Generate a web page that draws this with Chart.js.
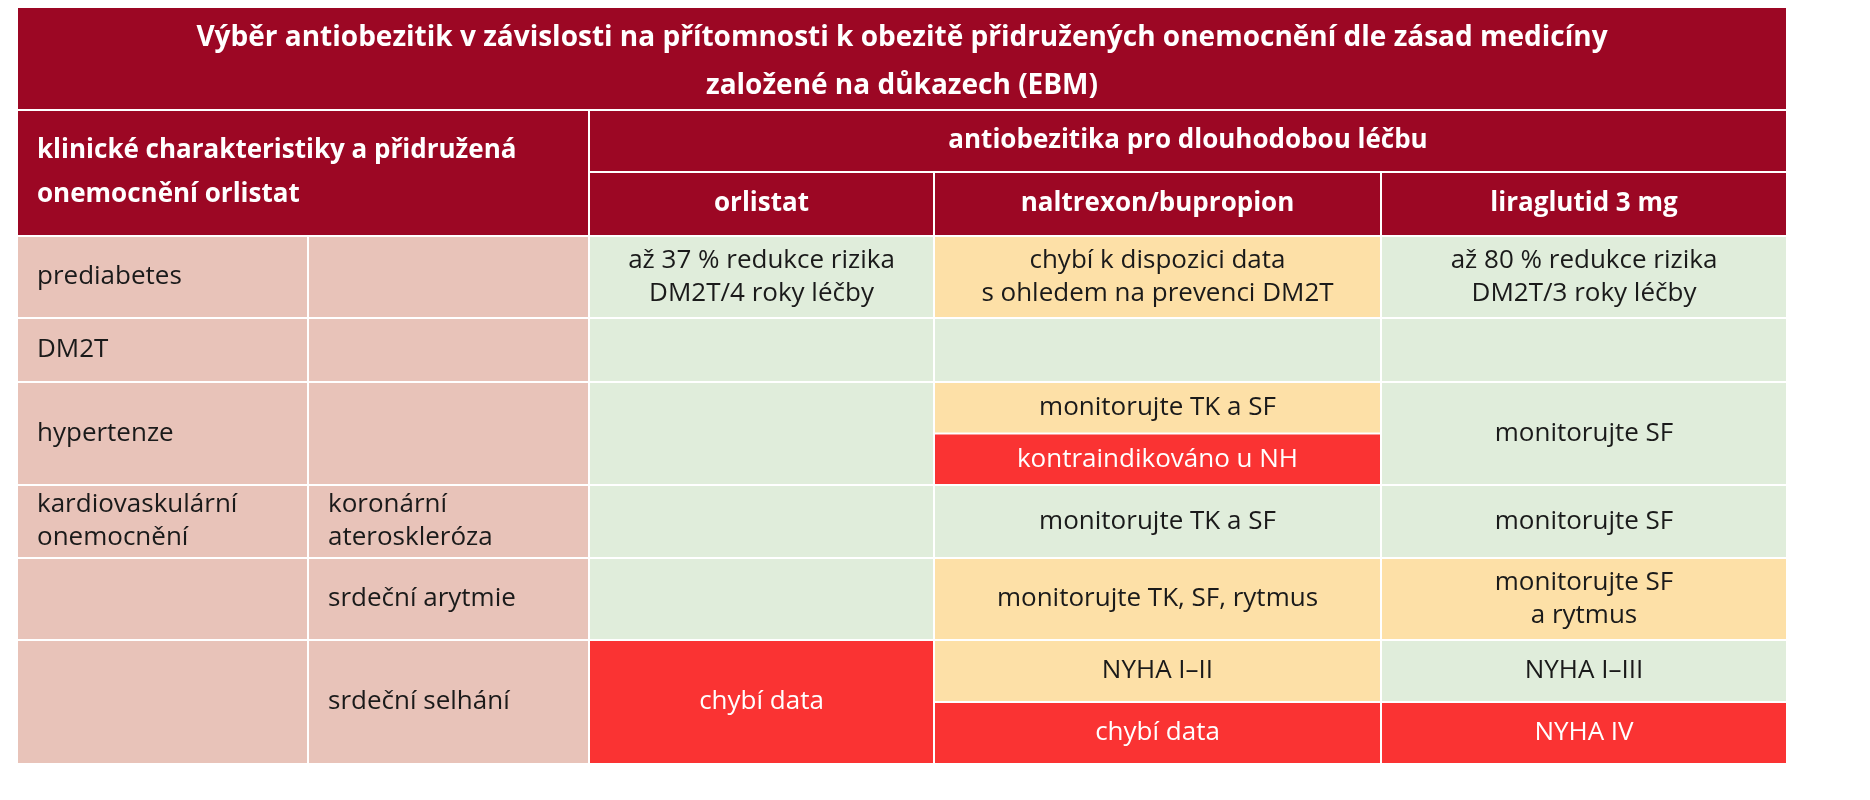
<!DOCTYPE html>
<html><head><meta charset="utf-8">
<script src="https://cdn.jsdelivr.net/npm/chart.js@4.4.1/dist/chart.umd.min.js"></script>
<style>html,body{margin:0;padding:0;background:#fff}#w{width:1870px;height:800px}</style>
</head><body><div id="w"><canvas id="c" width="1870" height="800"></canvas></div>
<script>
// ---- data ----
const title = ['Výběr antiobezitik v závislosti na přítomnosti k obezitě přidružených onemocnění dle zásad medicíny', 'založené na důkazech (EBM)'];
const leftHeader = ['klinické charakteristiky a přidružená', 'onemocnění orlistat'];
const groupHeader = 'antiobezitika pro dlouhodobou léčbu';
const drugs = ['orlistat', 'naltrexon/bupropion', 'liraglutid 3 mg'];
const conditions = ['prediabetes', 'DM2T', 'hypertenze', 'kardiovaskulární\nonemocnění', '', ''];
const subConditions = ['', '', '', 'koronární\nateroskleróza', 'srdeční arytmie', 'srdeční selhání'];
const orlistat = [
  [['až 37 % redukce rizika\nDM2T/4 roky léčby','g']],
  [['','g']],
  [['','g']],
  [['','g']],
  [['','g']],
  [['chybí data','r']]
];
const naltrexon = [
  [['chybí k dispozici data\ns ohledem na prevenci DM2T','o']],
  [['','g']],
  [['monitorujte TK a SF','o'],['kontraindikováno u NH','r']],
  [['monitorujte TK a SF','g']],
  [['monitorujte TK, SF, rytmus','o']],
  [['NYHA I–II','o'],['chybí data','r']]
];
const liraglutid = [
  [['až 80 % redukce rizika\nDM2T/3 roky léčby','g']],
  [['','g']],
  [['monitorujte SF','g']],
  [['monitorujte SF','g']],
  [['monitorujte SF\na rytmus','o']],
  [['NYHA I–III','g'],['NYHA IV','r']]
];

// ---- layout / style ----
const colEdges = [17, 308, 589, 934, 1381, 1787];
const headEdges = [7, 110, 172, 236];
const bodyRowEdges = [236, 318, 382, 485, 558, 640, 764];
const tones = {g:'#e0eddb', o:'#fde0a7', r:'#fa3333', p:'#e8c3b9', h:'#9c0724'};
const FONT = '"Open Sans", "Noto Sans", sans-serif';

function buildCells(){
  const cells = [];
  cells.push({x0:colEdges[0],x1:colEdges[5],y0:headEdges[0],y1:headEdges[1],fill:tones.h,text:title.join('\n'),bold:true,color:'#fff',lh:48,size:28,dy:4});
  cells.push({x0:colEdges[0],x1:colEdges[2],y0:headEdges[1],y1:headEdges[3],fill:tones.h,text:leftHeader.join('\n'),bold:true,color:'#fff',align:'left',lh:44});
  cells.push({x0:colEdges[2],x1:colEdges[5],y0:headEdges[1],y1:headEdges[2],fill:tones.h,text:groupHeader,bold:true,color:'#fff'});
  drugs.forEach((d,i)=>cells.push({x0:colEdges[2+i],x1:colEdges[3+i],y0:headEdges[2],y1:headEdges[3],fill:tones.h,text:d,bold:true,color:'#fff'}));
  conditions.forEach((t,r)=>{
    const y0=bodyRowEdges[r], y1=bodyRowEdges[r+1];
    cells.push({x0:colEdges[0],x1:colEdges[1],y0,y1,fill:tones.p,text:t,align:'left',color:'#1a1a1a'});
    cells.push({x0:colEdges[1],x1:colEdges[2],y0,y1,fill:tones.p,text:subConditions[r],align:'left',color:'#1a1a1a'});
    [orlistat,naltrexon,liraglutid].forEach((ser,k)=>{
      const parts = ser[r];
      const n = parts.length;
      parts.forEach((p,j)=>{
        const a = y0+(y1-y0)*j/n, b = y0+(y1-y0)*(j+1)/n;
        cells.push({x0:colEdges[2+k],x1:colEdges[3+k],y0:a,y1:b,fill:tones[p[1]],text:p[0],color:p[1]==='r'?'#fff':'#1a1a1a'});
      });
    });
  });
  return cells;
}
const cells = buildCells();

const tablePlugin = {
  id:'table',
  afterDatasetsDraw(chart){
    const ctx = chart.ctx, xs = chart.scales.x, ys = chart.scales.y;
    ctx.save();
    cells.forEach(c=>{
      const X0 = xs.getPixelForValue(c.x0), X1 = xs.getPixelForValue(c.x1);
      const Y0 = ys.getPixelForValue(c.y0), Y1 = ys.getPixelForValue(c.y1);
      ctx.fillStyle = c.fill;
      ctx.fillRect(X0+1, Y0+1, X1-X0-2, Y1-Y0-2);
      if(!c.text) return;
      ctx.fillStyle = c.color;
      ctx.font = (c.bold?'bold ':'') + (c.size||26) + 'px ' + FONT;
      ctx.textBaseline = 'middle';
      const lines = c.text.split('\n');
      const lh = c.lh || 33;
      const cy = (Y0+Y1)/2 + (c.dy||0);
      lines.forEach((ln,i)=>{
        const y = cy + (i-(lines.length-1)/2)*lh;
        if(c.align==='left'){ ctx.textAlign='left'; ctx.fillText(ln, X0+20, y); }
        else { ctx.textAlign='center'; ctx.fillText(ln, (X0+X1)/2, y); }
      });
    });
    ctx.restore();
  }
};

new Chart(document.getElementById('c'), {
  type:'scatter',
  data:{datasets:[{data:[]}]},
  options:{
    responsive:false, animation:false, devicePixelRatio:1,
    layout:{padding:0},
    plugins:{legend:{display:false}, tooltip:{enabled:false}},
    scales:{
      x:{type:'linear', min:0, max:1870, display:false},
      y:{type:'linear', min:0, max:800, reverse:true, display:false}
    }
  },
  plugins:[tablePlugin]
});
</script>
</body></html>
